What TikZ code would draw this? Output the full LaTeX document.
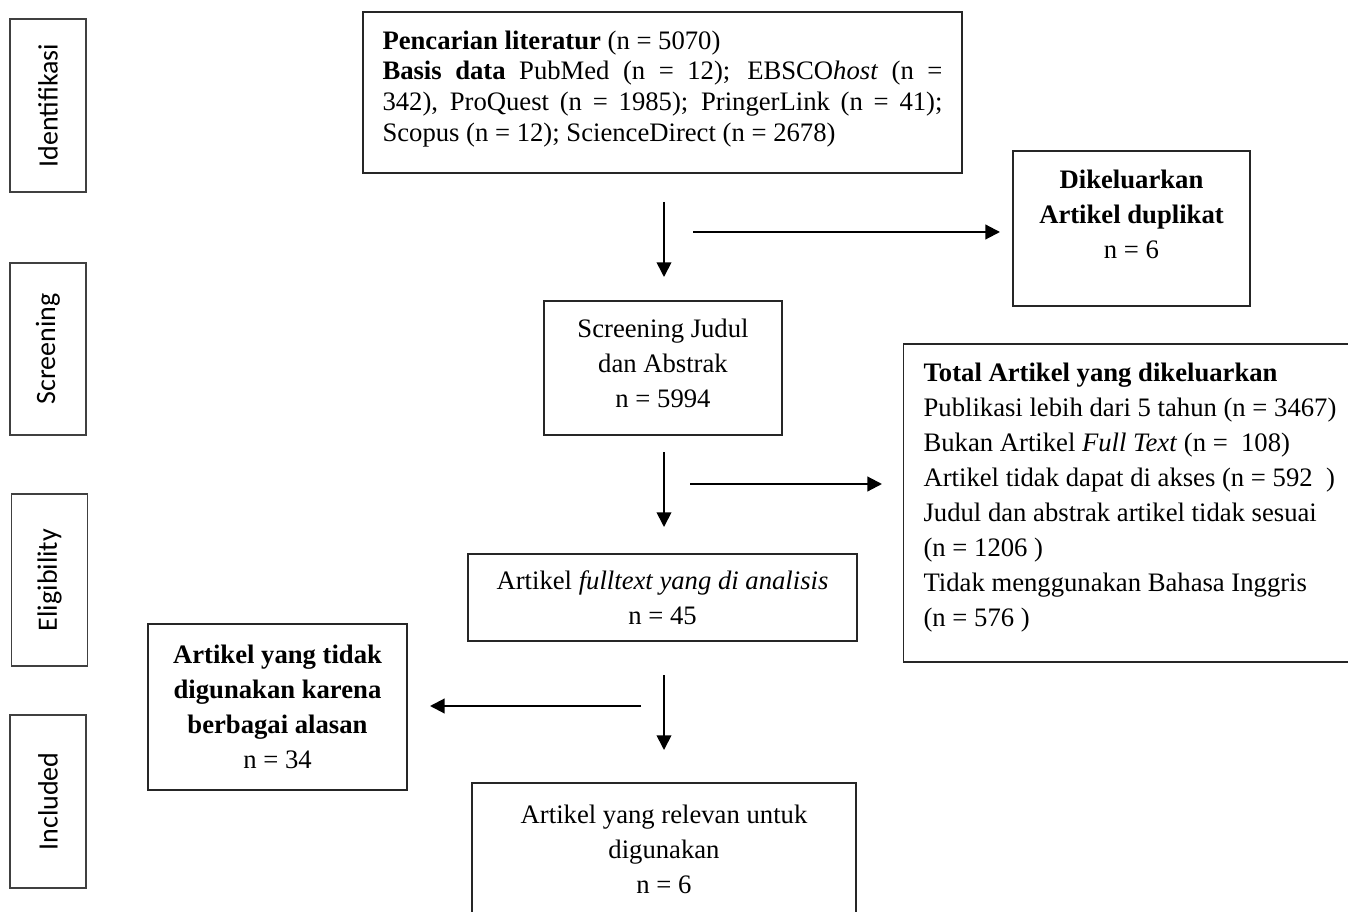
\documentclass[tikz,border=0pt]{standalone}
\usepackage{fontspec}
\setmainfont{Liberation Serif}
\newfontfamily\sidefont{Carlito}
\usetikzlibrary{arrows.meta}
\newcommand\pxu{0.75pt}
\begin{document}
\begin{tikzpicture}[x=0.75pt,y=-0.75pt,
  box/.style={draw=black!85,line width=0.9pt,inner sep=0pt,align=center,font=\fontsize{20}{26.25}\selectfont},
  side/.style={draw=black!75,line width=0.9pt,inner sep=0pt,rotate=90,font=\sidefont\fontsize{21}{25}\selectfont},
  harrow/.style={line width=1.6pt,-{Triangle[length=11pt,width=11pt]}},
  varrow/.style={line width=1.3pt,-{Triangle[length=11pt,width=11pt]}}]
\useasboundingbox (0,0) rectangle (1348,912);

% phase labels
\node[side,minimum width=173*\pxu,minimum height=76*\pxu] (ident) at (48,105.5) {Identifikasi};
\node[side,minimum width=172*\pxu,minimum height=76*\pxu] (scrlbl) at (48,349) {Screening};
\node[side,minimum width=172*\pxu,minimum height=76*\pxu] (elig) at (49.5,580) {Eligibility};
\node[side,minimum width=173*\pxu,minimum height=76*\pxu] (incl) at (48,801.5) {Included};

% main boxes
\node[box,align=justify,text width=420pt,inner xsep=14.6pt,minimum height=161*\pxu,
      font=\fontsize{20}{22.9}\selectfont] (search) at (662.5,92.5)
 {\textbf{Pencarian literatur} (n = 5070)\\
  \textbf{Basis data} PubMed (n = 12); EBSCO\textit{host} (n =\linebreak
  342), ProQuest (n = 1985); PringerLink (n = 41);\linebreak
  Scopus (n = 12); ScienceDirect (n = 2678)\rule[-9.75pt]{0pt}{0pt}};

\node[box,minimum width=237*\pxu,minimum height=155*\pxu] (dup) at (1131.5,228.5)
 {\textbf{Dikeluarkan}\\ \textbf{Artikel duplikat}\\ n = 6\rule[-21.75pt]{0pt}{0pt}};

\node[box,minimum width=238*\pxu,minimum height=134*\pxu] (screen) at (663,368)
 {Screening Judul\\ dan Abstrak\\ n = 5994\rule[-7.5pt]{0pt}{0pt}};

\node[box,align=left,anchor=west,inner xsep=15pt,minimum height=318*\pxu,
      font=\fontsize{20}{26.25}\selectfont] (total) at (903,503)
 {\textbf{Total Artikel yang dikeluarkan}\\
  Publikasi lebih dari 5 tahun (n = 3467)\hspace*{15pt}\\
  Bukan Artikel \textit{Full Text} (n =\ \ 108)\\
  Artikel tidak dapat di akses (n = 592\ \ )\\
  Judul dan abstrak artikel tidak sesuai\\
  (n = 1206 )\\
  Tidak menggunakan Bahasa Inggris\\
  (n = 576 )\rule[-12.75pt]{0pt}{0pt}};

\node[box,minimum width=389*\pxu,minimum height=87*\pxu] (full) at (662.5,597.5)
 {Artikel \textit{fulltext yang di analisis}\\ n = 45};

\node[box,minimum width=259*\pxu,minimum height=166*\pxu] (notused) at (277.5,707)
 {\textbf{Artikel yang tidak}\\ \textbf{digunakan karena}\\ \textbf{berbagai alasan}\\ n = 34};

\node[box,minimum width=384*\pxu,minimum height=133*\pxu] (relevant) at (664,849.5)
 {Artikel yang relevan untuk\\ digunakan\\ n = 6};

% arrow end points
\coordinate (a1s) at (664,202);  \coordinate (a1e) at (664,277);
\coordinate (h1s) at (693,232);  \coordinate (h1e) at (1000,232);
\coordinate (a2s) at (664,452);  \coordinate (a2e) at (664,527);
\coordinate (h2s) at (690,484);  \coordinate (h2e) at (882,484);
\coordinate (a3s) at (664,675);  \coordinate (a3e) at (664,750);
\coordinate (h3s) at (641,706);  \coordinate (h3e) at (430,706);

\draw[varrow] (a1s) -- (a1e);
\draw[harrow] (h1s) -- (h1e);
\draw[varrow] (a2s) -- (a2e);
\draw[harrow] (h2s) -- (h2e);
\draw[varrow] (a3s) -- (a3e);
\draw[harrow] (h3s) -- (h3e);
\end{tikzpicture}
\end{document}
